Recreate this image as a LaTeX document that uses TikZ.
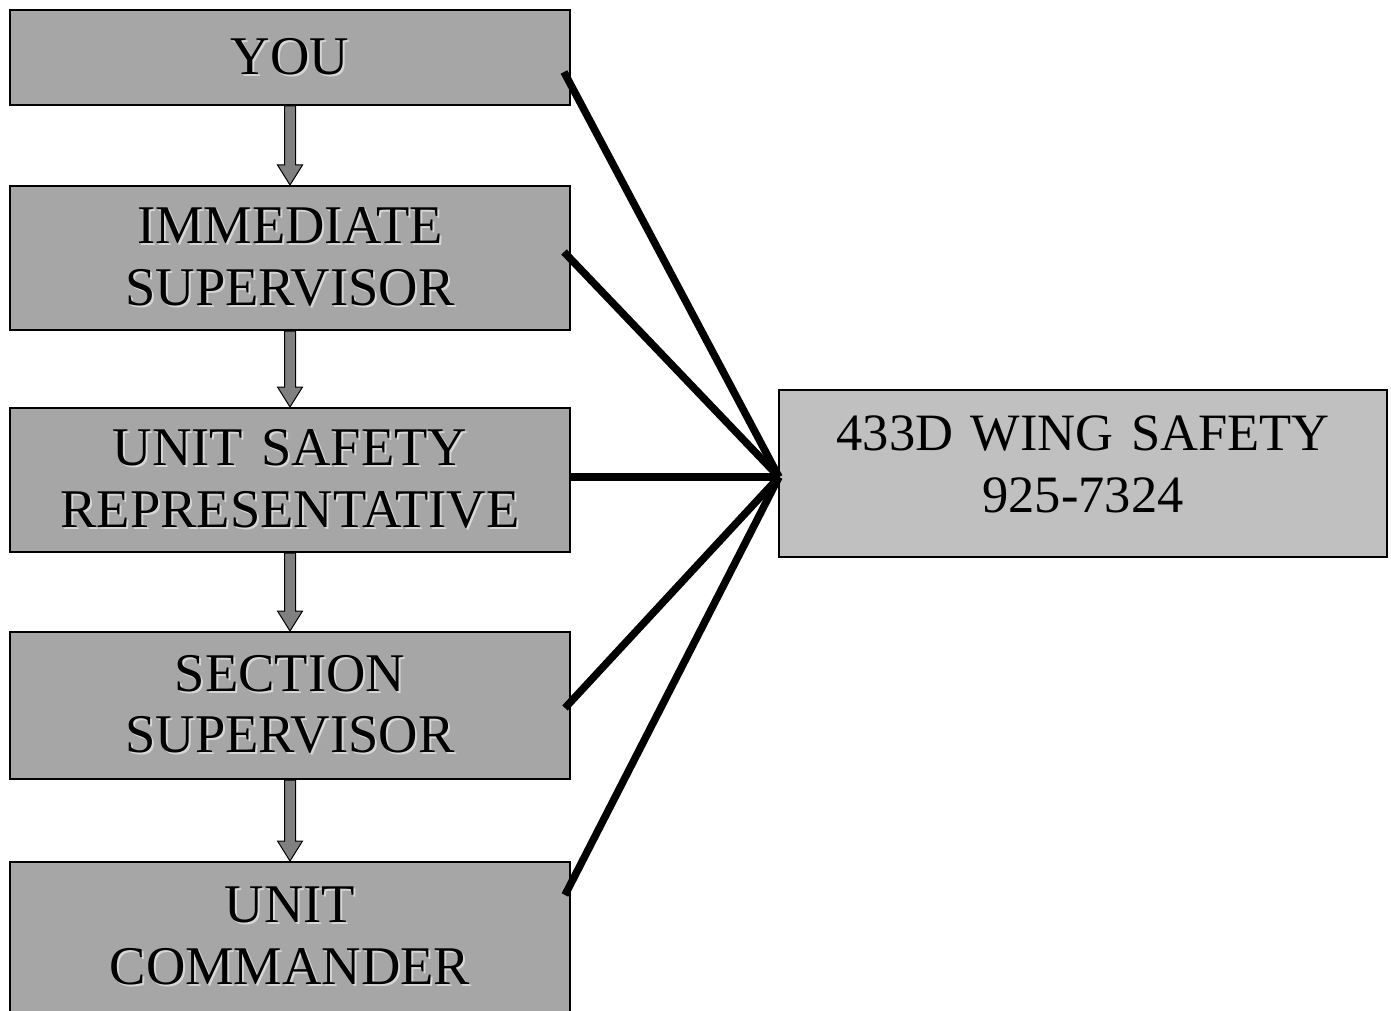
\documentclass[tikz,border=0pt]{standalone}
\usepackage{fontspec}
\setmainfont{Liberation Serif}
\usetikzlibrary{calc}
\definecolor{boxgray}{HTML}{A6A6A6}
\definecolor{wsgray}{HTML}{C0C0C0}
\definecolor{shadowc}{HTML}{D6D6D6}
\definecolor{arrgray}{HTML}{808080}
\newcommand\shd[1]{\leavevmode\rlap{\kern2pt\raisebox{-2pt}{\color{shadowc}#1}}#1}
\newcommand\upl[2][9pt]{\raisebox{#1}[\height][\depth]{#2}}
\newcommand\blockarrow[2]{%
  \path let \p1=(#1.south), \p2=(#2.north) in
    [blockarr] (\x1-5.5pt,\y1) -- (\x1-5.5pt,\y2+20pt) -- (\x1-12.5pt,\y2+20pt)
    -- (\x1,\y2) -- (\x1+12.5pt,\y2+20pt) -- (\x1+5.5pt,\y2+20pt)
    -- (\x1+5.5pt,\y1) -- cycle;}
\begin{document}
\begin{tikzpicture}[x=1pt,y=-1pt,
  leftbox/.style={draw=black, line width=2pt, fill=boxgray, minimum width=560pt,
    inner sep=0pt, font=\fontsize{54.5}{61.5}\selectfont, align=center, text width=560pt},
  wsbox/.style={draw=black, line width=2pt, fill=wsgray, minimum width=608pt,
    minimum height=167pt, inner sep=0pt, font=\fontsize{52.5}{62}\selectfont,
    align=center, text width=608pt},
  blockarr/.style={fill=arrgray, draw=black, line width=1pt, line join=miter},
  conn/.style={draw=black, line width=7.5pt}
]
\useasboundingbox (0,0) rectangle (1391,1011);
\node[leftbox, minimum height=95pt] (you) at (290,57.5) {\shd{YOU}};
\node[leftbox, minimum height=144pt] (imm) at (290,258) {\shd{IMMEDIATE}\\\shd{SUPERVISOR}};
\node[leftbox, minimum height=144pt] (usr) at (290,480) {\shd{UNIT SAFETY}\\\shd{REPRESENTATIVE}};
\node[leftbox, minimum height=147pt] (sec) at (290,705.5) {\shd{SECTION}\\\shd{SUPERVISOR}};
\node[leftbox, minimum height=156pt] (uc) at (290,940) {\upl[3pt]{\shd{UNIT}}\\\upl[3pt]{\shd{COMMANDER}}};
\node[wsbox] (ws) at (1083,473.5) {\upl{433D WING SAFETY}\\\upl{925-7324}};

\blockarrow{you}{imm}
\blockarrow{imm}{usr}
\blockarrow{usr}{sec}
\blockarrow{sec}{uc}

\coordinate (hub) at (779,477);
\coordinate (c1) at (564,72);
\coordinate (c2) at (564,252);
\coordinate (c3) at (570,477);
\coordinate (c4) at (565,708);
\coordinate (c5) at (565,895);
\draw[conn] (c1) -- (hub);
\draw[conn] (c2) -- (hub);
\draw[conn] (c3) -- (hub);
\draw[conn] (c4) -- (hub);
\draw[conn] (c5) -- (hub);
\end{tikzpicture}
\end{document}
